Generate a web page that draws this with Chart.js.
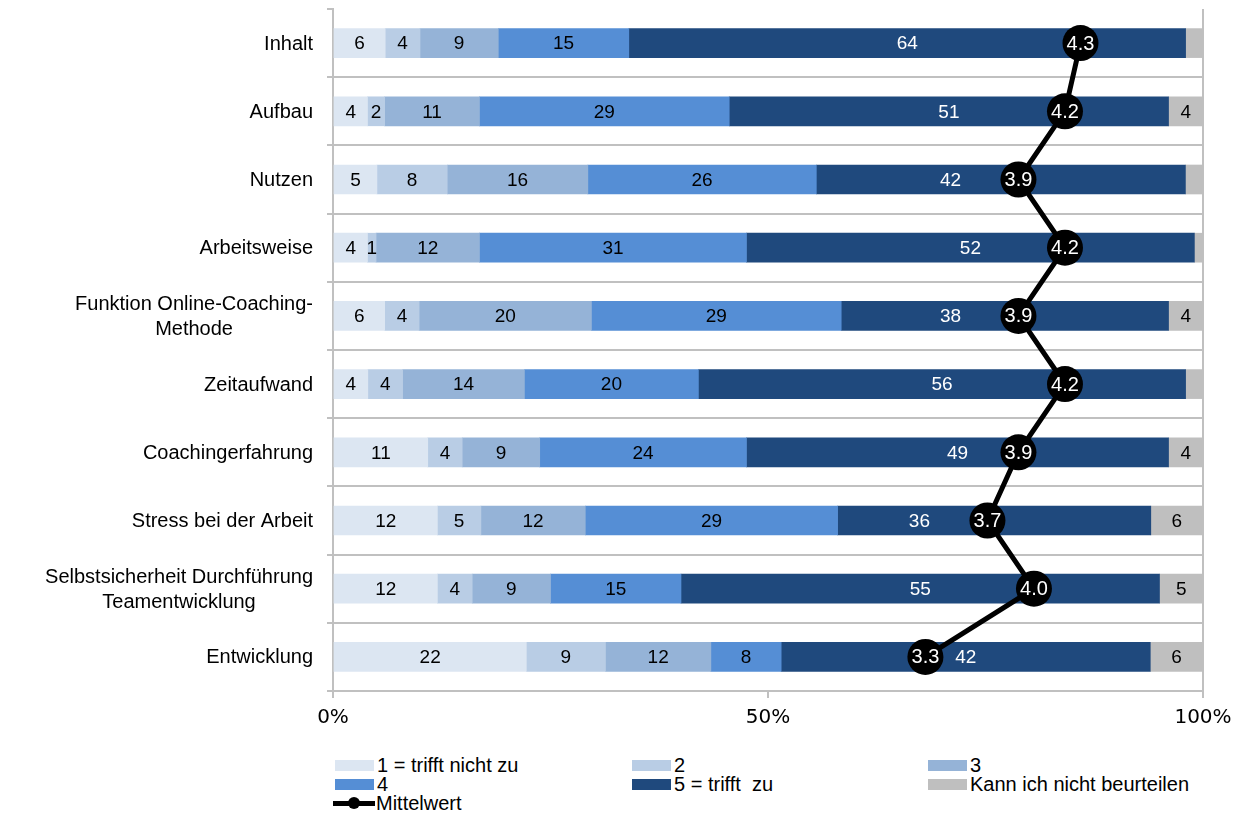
<!DOCTYPE html>
<html lang="de">
<head>
<meta charset="utf-8">
<title>Bewertung</title>
<script src="https://cdn.jsdelivr.net/npm/chart.js"></script>
<style>
  html, body { margin: 0; padding: 0; background: #fff; }
  body { width: 1245px; height: 813px; position: relative; overflow: hidden; font-family: "Liberation Sans", Arial, sans-serif; }
  #wrap { position: absolute; left: 0; top: 0; width: 1245px; height: 740px; }
  .leg { position: absolute; height: 20px; display: flex; align-items: center; font-size: 20px; color: #000; white-space: pre; }
  .leg .box { width: 39px; height: 11px; margin-right: 3px; }
  .leg .ln { position: relative; width: 42px; height: 12px; margin-right: 1px; }
  .leg .ln::before { content: ""; position: absolute; left: 0; right: 0; top: 4px; height: 5px; background: #000; }
  .leg .ln::after { content: ""; position: absolute; left: 15px; top: 0; width: 12px; height: 12px; border-radius: 50%; background: #000; }
</style>
</head>
<body>
<div id="wrap"><canvas id="chart"></canvas></div>
<div id="legend"></div>
<script>
  // categories (top to bottom)
  const categories = [
    "Inhalt",
    "Aufbau",
    "Nutzen",
    "Arbeitsweise",
    ["Funktion Online-Coaching-", "Methode"],
    "Zeitaufwand",
    "Coachingerfahrung",
    "Stress bei der Arbeit",
    ["Selbstsicherheit Durchführung", "Teamentwicklung"],
    "Entwicklung"
  ];

  // answers in percent
  const trifftNicht = [6, 4, 5, 4, 6, 4, 11, 12, 12, 22];
  const stufe2 = [4, 2, 8, 1, 4, 4, 4, 5, 4, 9];
  const stufe3 = [9, 11, 16, 12, 20, 14, 9, 12, 9, 12];
  const stufe4 = [15, 29, 26, 31, 29, 20, 24, 29, 15, 8];
  const trifftZu = [64, 51, 42, 52, 38, 56, 49, 36, 55, 42];
  const keineAngabe = [2, 4, 2, 1, 4, 2, 4, 6, 5, 6];

  // mean of the 1..5 scale
  const mittelwert = [4.3, 4.2, 3.9, 4.2, 3.9, 4.2, 3.9, 3.7, 4.0, 3.3];

  const xTicks = [0, 50, 100];

  const series = [
    { label: "1 = trifft nicht zu", data: trifftNicht, color: "#dce6f2", text: "#000" },
    { label: "2", data: stufe2, color: "#b9cde5", text: "#000" },
    { label: "3", data: stufe3, color: "#95b3d7", text: "#000" },
    { label: "4", data: stufe4, color: "#558ed5", text: "#000" },
    { label: "5 = trifft  zu", data: trifftZu, color: "#1f497d", text: "#fff" },
    { label: "Kann ich nicht beurteilen", data: keineAngabe, color: "#bfbfbf", text: "#000", minLabel: 4 }
  ];

  // rows don't always add up to exactly 100, bars are scaled to full width
  const rowTotals = categories.map((c, i) => series.reduce((s, ser) => s + ser.data[i], 0));

  const gridGray = "#c0c0c0";
  const textFont = "'Liberation Sans', Arial, sans-serif";

  const datasets = series.map((s) => ({
    type: "bar",
    label: s.label,
    data: s.data.map((v, i) => (v / rowTotals[i]) * 100),
    raw: s.data,
    textColor: s.text,
    minLabel: s.minLabel || 0,
    backgroundColor: s.color,
    borderWidth: 0,
    barThickness: 29,
    xAxisID: "x",
    order: 1
  }));

  datasets.push({
    type: "line",
    label: "Mittelwert",
    data: mittelwert,
    xAxisID: "x2",
    indexAxis: "y",
    borderColor: "#000",
    borderWidth: 5,
    pointRadius: 18,
    pointBackgroundColor: "#000",
    pointBorderColor: "#000",
    pointBorderWidth: 0,
    tension: 0,
    order: 0
  });

  // numbers inside the bar segments; a label sitting under a mean marker moves left of it
  const barLabels = {
    id: "barLabels",
    afterDatasetDraw(chart, args) {
      const ds = chart.data.datasets[args.index];
      if (ds.type !== "bar") return;
      const lineIdx = chart.data.datasets.findIndex((d) => d.type === "line");
      const points = chart.getDatasetMeta(lineIdx).data;
      const ctx = chart.ctx;
      ctx.save();
      ctx.font = "19px " + textFont;
      ctx.textAlign = "center";
      ctx.textBaseline = "middle";
      ctx.fillStyle = ds.textColor;
      args.meta.data.forEach((el, i) => {
        const v = ds.raw[i];
        if (v < ds.minLabel) return;
        let x = (el.x + el.base) / 2;
        const pt = points[i];
        if (pt && Math.abs(x - pt.x) < 35) x = pt.x - 68;
        ctx.fillText(String(v), x, el.y + 1);
      });
      ctx.restore();
    }
  };

  // mean values inside the black circles
  const meanLabels = {
    id: "meanLabels",
    afterDatasetsDraw(chart) {
      const idx = chart.data.datasets.findIndex((d) => d.type === "line");
      const meta = chart.getDatasetMeta(idx);
      const ctx = chart.ctx;
      ctx.save();
      ctx.font = "20px " + textFont;
      ctx.textAlign = "center";
      ctx.textBaseline = "middle";
      ctx.fillStyle = "#fff";
      meta.data.forEach((pt, i) => {
        ctx.fillText(mittelwert[i].toFixed(1), pt.x, pt.y + 1);
      });
      ctx.restore();
    }
  };

  // category names: block right aligned, lines centred within the block
  const categoryLabels = {
    id: "categoryLabels",
    afterDraw(chart) {
      const ctx = chart.ctx;
      const yScale = chart.scales.y;
      const right = 313;
      const lineH = 25;
      ctx.save();
      ctx.font = "20px " + textFont;
      ctx.fillStyle = "#000";
      ctx.textBaseline = "middle";
      ctx.textAlign = "center";
      categories.forEach((c, i) => {
        const lines = Array.isArray(c) ? c : [c];
        const w = Math.max(...lines.map((l) => ctx.measureText(l).width));
        const cx = right - w / 2;
        const y0 = yScale.getPixelForValue(i) - ((lines.length - 1) * lineH) / 2;
        lines.forEach((l, k) => ctx.fillText(l, cx, y0 + k * lineH + 1));
      });
      ctx.restore();
    }
  };

  new Chart(document.getElementById("chart"), {
    type: "bar",
    data: { labels: categories, datasets: datasets },
    plugins: [barLabels, meanLabels, categoryLabels],
    options: {
      indexAxis: "y",
      responsive: true,
      maintainAspectRatio: false,
      animation: false,
      layout: { autoPadding: false, padding: { top: 9, right: 42, left: 0, bottom: 0 } },
      plugins: { legend: { display: false }, tooltip: { enabled: false } },
      scales: {
        x: {
          stacked: true,
          min: 0,
          max: 100,
          afterBuildTicks: (scale) => { scale.ticks = xTicks.map((v) => ({ value: v })); },
          afterFit: (scale) => { scale.height = 49; },
          border: { color: gridGray, width: 2 },
          grid: {
            color: (c) => (c.tick && c.tick.value === 50 ? "rgba(0,0,0,0)" : gridGray),
            tickColor: gridGray,
            lineWidth: 2,
            tickLength: 7
          },
          ticks: {
            color: "#000",
            font: { family: "'DejaVu Sans', sans-serif", size: 20 },
            padding: 8,
            callback: (v) => v + "%"
          }
        },
        x2: {
          display: false,
          min: -0.52,
          max: 5.09
        },
        y: {
          stacked: true,
          afterFit: (scale) => { scale.width = 333; },
          border: { color: gridGray, width: 2 },
          grid: {
            offset: true,
            color: (c) => (c.index === 0 ? "rgba(0,0,0,0)" : gridGray),
            tickColor: gridGray,
            lineWidth: 2,
            tickLength: 6
          },
          ticks: { display: false }
        }
      }
    }
  });

  // legend in three columns below the plot
  const legendItems = [
    { text: series[0].label, color: series[0].color, x: 335, y: 765 },
    { text: series[1].label, color: series[1].color, x: 632, y: 765 },
    { text: series[2].label, color: series[2].color, x: 928, y: 765 },
    { text: series[3].label, color: series[3].color, x: 335, y: 784 },
    { text: series[4].label, color: series[4].color, x: 632, y: 784 },
    { text: series[5].label, color: series[5].color, x: 928, y: 784 },
    { text: "Mittelwert", line: true, x: 333, y: 803 }
  ];
  const legendEl = document.getElementById("legend");
  legendItems.forEach((it) => {
    const d = document.createElement("div");
    d.className = "leg";
    d.style.left = it.x + "px";
    d.style.top = it.y - 10 + "px";
    const sym = document.createElement("span");
    if (it.line) {
      sym.className = "ln";
    } else {
      sym.className = "box";
      sym.style.background = it.color;
    }
    const t = document.createElement("span");
    t.textContent = it.text;
    d.appendChild(sym);
    d.appendChild(t);
    legendEl.appendChild(d);
  });
</script>
</body>
</html>
